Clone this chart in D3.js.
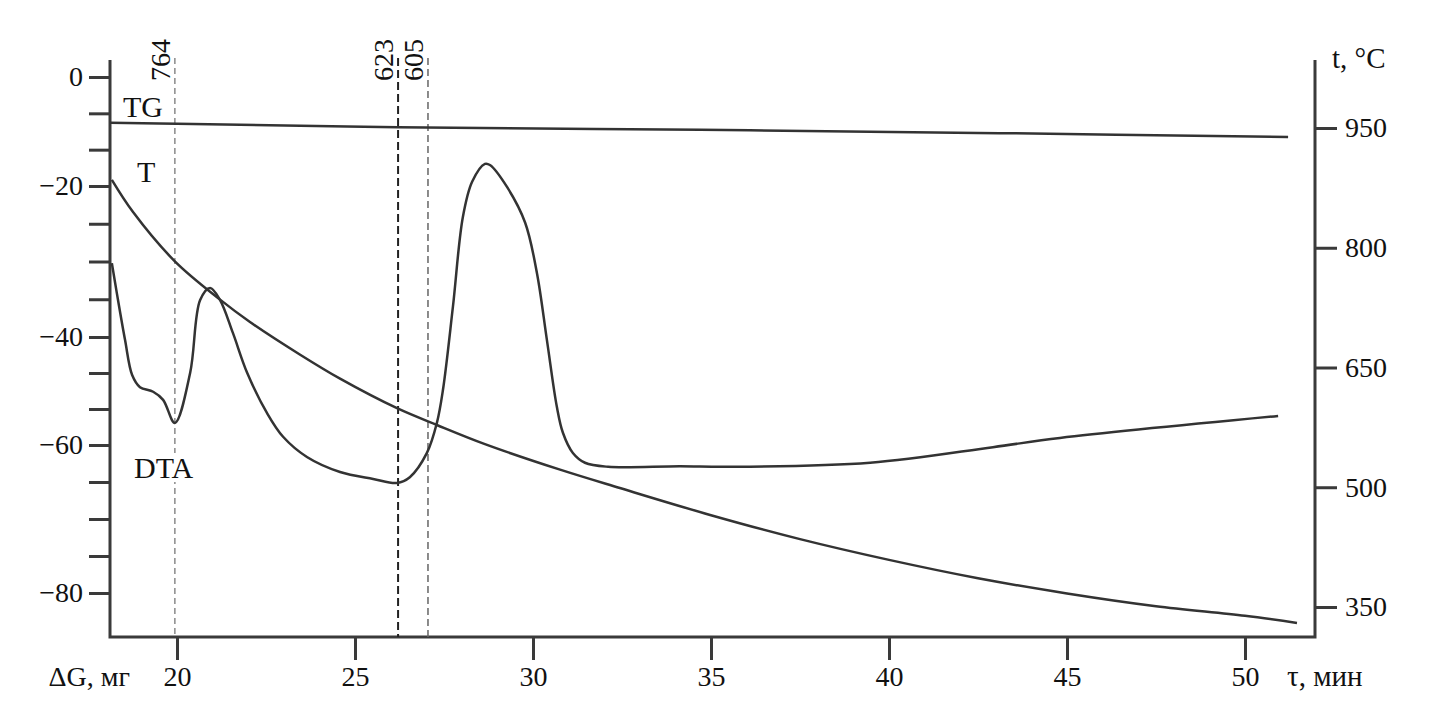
<!DOCTYPE html>
<html>
<head>
<meta charset="utf-8">
<script src="https://cdn.jsdelivr.net/npm/d3@7"></script>
<style>
  body { margin: 0; background: #fff; }
  svg { display: block; }
</style>
</head>
<body>
<script>
  // --- data ---
  const timeTicks = [20, 25, 30, 35, 40, 45, 50];
  const massTicks = [0, -20 / 3, -40 / 3, -20, -25, -30, -35, -40, -140 / 3, -160 / 3, -60, -65, -70, -75, -80];
  const massLabels = [0, -20, -40, -60, -80];
  const tempTicks = [950, 800, 650, 500, 350];

  // TG: mass change, mg (left axis)
  const tgTime = [18.12, 20, 26.2, 34.7, 43.1, 51.21];
  const tgMass = [-8.4, -8.6, -9.2, -9.7, -10.3, -11.0];

  // T: furnace temperature, °C (right axis)
  const tTime = [18.17, 18.76, 19.94, 21.21, 22.05, 23.46, 24.58, 26.18, 27.3, 28.65, 30.76, 32.44, 35, 37.5, 40, 42.5, 45, 47.5, 50, 51.46];
  const tTemp = [885, 845, 783, 735, 707, 666, 636, 599, 578, 554, 522, 499, 465, 435, 409, 386, 367, 351, 339, 330];

  // DTA: relative signal (no scale drawn)
  const dtaTime = [18.17, 18.31, 18.54, 18.74, 18.96, 19.33, 19.61, 19.94, 20.37, 20.65, 20.93, 21.21, 21.57, 21.97, 22.53, 22.98, 23.65, 24.58, 25.51, 26.18, 26.54, 27.02, 27.3, 27.47, 27.75, 28.03, 28.29, 28.65, 28.79, 29.27, 29.78, 30.11, 30.39, 30.67, 30.84, 31.12, 31.46, 32.11, 34.13, 35.45, 39.47, 42.92, 44.8, 50.93];
  const dtaValue = [64.8, 59.6, 51.5, 45.4, 43.3, 42.5, 41.1, 37.1, 45.8, 58.4, 60.5, 58.4, 52.7, 45.8, 38.8, 34.7, 31.2, 28.6, 27.4, 26.7, 27.7, 31.9, 37.1, 42.8, 57.2, 72.8, 78.9, 82.0, 81.8, 78.0, 71.8, 63.1, 51.5, 39.9, 35.4, 31.9, 30.2, 29.5, 29.6, 29.5, 30.2, 32.9, 34.5, 38.3];

  // marker lines: time, temperature label
  const markTime = [19.94, 26.21, 27.05];
  const markLabel = ['764', '623', '605'];

  const margin = { top: 60, right: 114, bottom: 83, left: 110 };
  const width = 1429 - margin.left - margin.right;
  const height = 720 - margin.top - margin.bottom;

  const ink = '#333';
  const font = '"Liberation Serif", "Times New Roman", serif';

  const svg = d3.select('body').append('svg')
    .attr('width', 1429)
    .attr('height', 720)
    .style('font-family', font)
    .append('g')
      .attr('transform', `translate(${margin.left}, ${margin.top})`);

  const x = d3.scaleLinear()
    .domain([18.118, 51.966])
    .range([0, width]);

  // the printed mass scale is not uniform, keep it as printed
  const yMass = d3.scaleLinear()
    .domain([0, -20, -40, -60, -80])
    .range([17, 126, 277, 385, 533]);

  const yTemp = d3.scaleLinear()
    .domain([312.4, 1035.2])
    .range([height, 0]);

  const yDta = d3.scaleLinear()
    .domain([0, 100])
    .range([height, 0]);

  // frame: left, bottom, right
  svg.append('path')
    .attr('d', `M0,0V${height}H${width}V0`)
    .attr('fill', 'none')
    .attr('stroke', '#3a3a3a')
    .attr('stroke-width', 3);

  // left axis
  const gLeft = svg.append('g')
    .call(d3.axisLeft(yMass)
      .tickValues(massTicks)
      .tickSize(21)
      .tickPadding(6)
      .tickFormat(d => massLabels.some(m => Math.abs(m - d) < 1e-6) ? (d === 0 ? '0' : '\u2212' + Math.abs(d)) : ''));

  // bottom axis
  const gBottom = svg.append('g')
    .attr('transform', `translate(0, ${height})`)
    .call(d3.axisBottom(x)
      .tickValues(timeTicks)
      .tickSize(23)
      .tickPadding(6)
      .tickFormat(d3.format('d')));

  // right axis
  const gRight = svg.append('g')
    .attr('transform', `translate(${width}, 0)`)
    .call(d3.axisRight(yTemp)
      .tickValues(tempTicks)
      .tickSize(22)
      .tickPadding(8)
      .tickFormat(d3.format('d')));

  [gLeft, gBottom, gRight].forEach(g => {
    g.select('.domain').remove();
    g.selectAll('.tick line')
      .attr('stroke', '#3a3a3a')
      .attr('stroke-width', 3);
    g.selectAll('.tick text')
      .attr('fill', '#111')
      .style('font-family', font)
      .style('font-size', '28px');
  });

  // axis titles
  svg.append('text')
    .attr('x', 20)
    .attr('y', 686 - margin.top)
    .attr('text-anchor', 'end')
    .attr('font-size', '28px')
    .attr('fill', '#111')
    .text('\u0394G, мг');

  svg.append('text')
    .attr('x', width - 28)
    .attr('y', 686 - margin.top)
    .attr('font-size', '29px')
    .attr('fill', '#111')
    .text('\u03c4, мин');

  svg.append('text')
    .attr('x', width + 17)
    .attr('y', 68 - margin.top)
    .attr('font-size', '29px')
    .attr('fill', '#111')
    .text('t, \u00b0C');

  // marker lines
  const dashStyle = [
    { color: '#8a8a8a', w: 1.5, dash: '6 4' },
    { color: '#222', w: 2, dash: '8 4' },
    { color: '#666', w: 1.5, dash: '7 4' }
  ];

  markTime.forEach((t, i) => {
    svg.append('line')
      .attr('x1', x(t))
      .attr('x2', x(t))
      .attr('y1', -2)
      .attr('y2', height)
      .attr('stroke', dashStyle[i].color)
      .attr('stroke-width', dashStyle[i].w)
      .attr('stroke-dasharray', dashStyle[i].dash);

    svg.append('text')
      .attr('transform', `translate(${x(t) - 5}, ${21}) rotate(-90)`)
      .attr('font-size', '28px')
      .attr('fill', '#111')
      .text(markLabel[i]);
  });

  const line = d3.line()
    .x(d => x(d[0]))
    .y(d => d[1])
    .curve(d3.curveCatmullRom.alpha(0.5));

  svg.append('path')
    .datum(d3.zip(tgTime, tgMass.map(v => yMass(v))))
    .attr('d', line)
    .attr('fill', 'none')
    .attr('stroke', ink)
    .attr('stroke-width', 2.5);

  svg.append('path')
    .datum(d3.zip(tTime, tTemp.map(v => yTemp(v))))
    .attr('d', line)
    .attr('fill', 'none')
    .attr('stroke', ink)
    .attr('stroke-width', 2.5);

  svg.append('path')
    .datum(d3.zip(dtaTime, dtaValue.map(v => yDta(v))))
    .attr('d', line)
    .attr('fill', 'none')
    .attr('stroke', ink)
    .attr('stroke-width', 2.5);

  // curve labels
  const labels = [
    { text: 'TG', x: 123, y: 117 },
    { text: 'T', x: 137, y: 182 },
    { text: 'DTA', x: 134, y: 478 }
  ];

  labels.forEach(l => {
    const t = svg.append('text')
      .attr('x', l.x - margin.left)
      .attr('y', l.y - margin.top)
      .attr('font-size', '30px')
      .attr('fill', '#111')
      .text(l.text);
    if (l.text === 'DTA') {
      const b = t.node().getBBox();
      svg.insert('rect', () => t.node())
        .attr('x', b.x)
        .attr('y', b.y + 2)
        .attr('width', b.width)
        .attr('height', b.height - 4)
        .attr('fill', '#fff');
    }
  });
</script>
</body>
</html>
